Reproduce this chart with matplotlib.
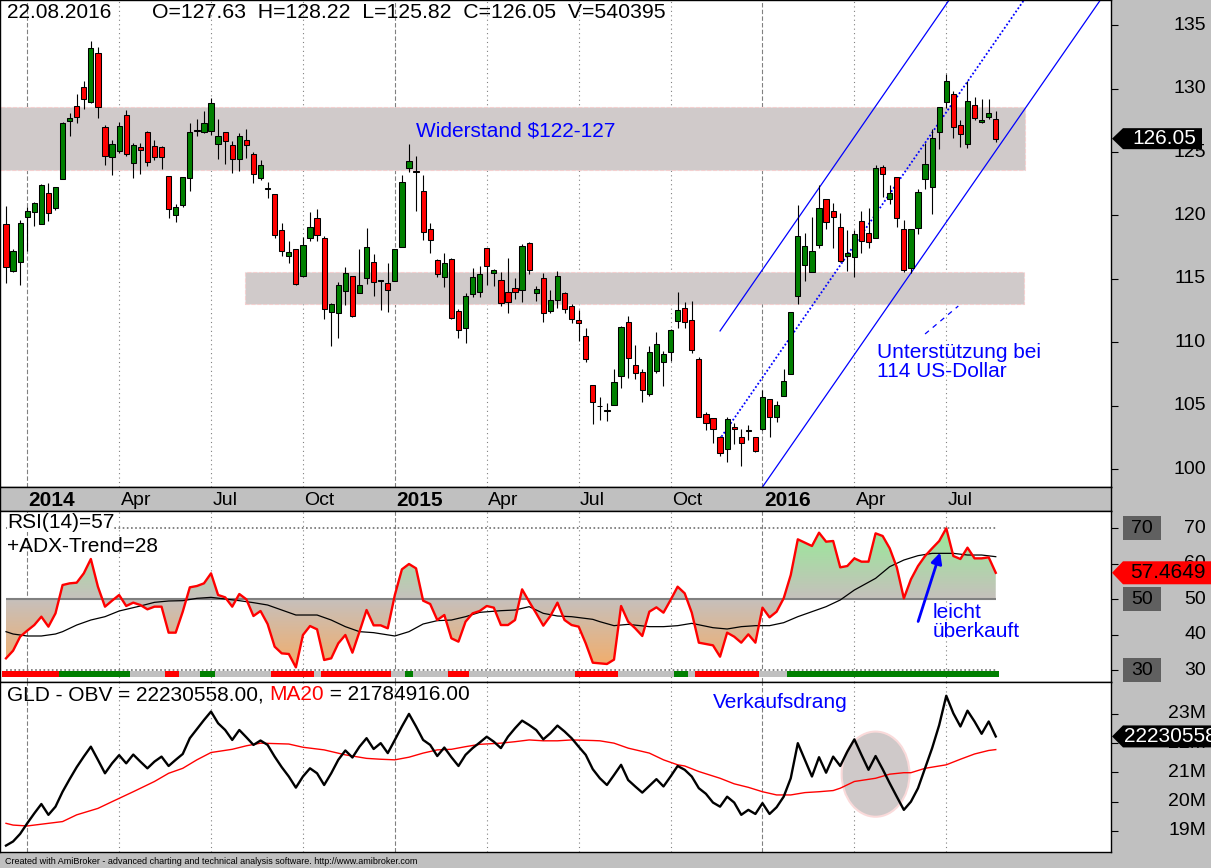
import matplotlib
matplotlib.use("Agg")
import matplotlib.pyplot as plt
import numpy as np
import pandas as pd
from matplotlib.colors import LinearSegmentedColormap
from matplotlib.patches import Polygon, Rectangle, Ellipse, PathPatch
from matplotlib.path import Path
from matplotlib.transforms import blended_transform_factory as blend

plt.rcParams['font.family'] = ['Liberation Sans', 'DejaVu Sans']

# ---- data: GLD weekly bars ----
dates = pd.date_range('2013-12-16', periods=141, freq='W-MON')

opens = [119.30, 115.66, 116.36, 119.86, 120.30, 119.30, 121.75, 120.56, 122.85, 127.47,
         128.60, 130.09, 128.96, 132.77, 126.94, 124.58, 125.10, 127.89, 124.11, 125.37,
         126.55, 125.45, 125.37, 123.08, 120.01, 120.85, 122.93, 126.68, 126.60, 126.68,
         125.60, 126.60, 125.52, 124.42, 125.92, 124.84, 122.98, 122.08, 121.66, 118.86,
         116.78, 117.33, 115.21, 118.20, 119.77, 118.20, 112.43, 112.29, 114.03, 115.21,
         113.87, 115.05, 116.31, 114.87, 114.66, 114.81, 117.49, 123.71, 123.47, 121.90,
         118.93, 116.49, 115.13, 116.57, 112.48, 111.11, 113.79, 113.95, 117.41, 115.44,
         114.92, 113.95, 114.26, 114.11, 117.81, 113.87, 115.05, 112.45, 113.32, 113.87,
         112.85, 111.74, 110.48, 106.63, 104.98, 104.64, 105.05, 107.39, 111.59, 108.20,
         107.65, 105.92, 107.78, 108.44, 109.22, 111.72, 112.69, 111.74, 108.67, 104.34,
         104.03, 102.53, 101.59, 103.37, 102.58, 103.04, 102.53, 103.17, 105.53, 104.10,
         105.81, 107.52, 113.68, 116.10, 115.52, 117.65, 121.27, 120.32, 119.06, 116.78,
         116.70, 119.54, 118.59, 118.20, 123.84, 121.27, 123.00, 118.91, 115.84, 118.99,
         122.84, 122.27, 126.54, 128.91, 129.54, 127.10, 125.60, 128.67, 127.36, 127.75,
         127.63]
highs = [120.75, 117.36, 119.65, 120.70, 121.09, 122.51, 122.56, 122.22, 127.34, 128.04,
         129.54, 130.59, 133.74, 133.27, 127.13, 125.94, 127.39, 128.31, 125.68, 125.71,
         126.65, 125.94, 125.47, 123.08, 120.91, 123.01, 127.26, 127.57, 128.23, 129.23,
         127.57, 126.60, 125.87, 126.47, 126.78, 125.02, 124.37, 122.66, 121.66, 119.41,
         117.99, 117.33, 118.28, 120.25, 120.51, 118.38, 113.11, 114.74, 115.92, 115.21,
         117.36, 118.99, 116.94, 114.92, 116.26, 117.36, 123.19, 125.63, 124.68, 123.19,
         119.41, 116.55, 117.02, 116.65, 112.61, 113.87, 115.89, 116.02, 117.41, 115.76,
         115.58, 116.63, 115.05, 117.73, 117.94, 114.45, 115.45, 114.13, 115.63, 114.00,
         113.00, 112.56, 111.14, 106.63, 105.73, 105.21, 107.89, 111.30, 112.06, 109.80,
         107.89, 109.75, 110.83, 109.33, 111.04, 113.95, 113.21, 113.27, 108.83, 104.50,
         104.03, 102.64, 104.16, 103.69, 103.19, 103.50, 102.53, 106.26, 105.53, 105.42,
         107.88, 112.37, 120.82, 118.59, 119.85, 122.37, 121.27, 120.95, 120.17, 118.85,
         118.85, 120.38, 120.61, 123.95, 123.95, 122.37, 123.00, 119.62, 118.91, 122.06,
         125.68, 126.78, 128.51, 131.14, 129.80, 127.49, 130.59, 129.35, 129.17, 129.17,
         128.22]
lows = [114.66, 115.58, 114.53, 117.23, 119.20, 119.30, 119.59, 120.43, 122.85, 126.29,
        127.31, 128.36, 128.88, 127.70, 123.98, 123.19, 124.90, 124.71, 122.98, 123.24,
        123.92, 124.40, 123.69, 119.78, 119.51, 120.70, 121.96, 126.29, 126.47, 126.34,
        124.45, 124.03, 123.37, 123.53, 124.55, 122.58, 122.79, 121.40, 118.20, 116.81,
        116.28, 114.53, 115.16, 118.02, 118.02, 111.82, 109.75, 110.38, 112.95, 112.03,
        113.87, 114.58, 113.69, 112.53, 112.43, 114.81, 117.49, 123.45, 120.38, 118.07,
        117.07, 115.13, 114.39, 111.82, 110.33, 109.93, 113.61, 113.61, 114.53, 114.47,
        112.90, 112.35, 113.42, 113.19, 115.42, 113.27, 111.64, 112.30, 112.74, 112.30,
        111.51, 110.14, 108.49, 103.56, 103.90, 103.84, 105.05, 106.44, 107.18, 107.15,
        105.34, 105.79, 107.57, 106.60, 108.57, 111.11, 111.11, 109.20, 104.11, 103.11,
        102.11, 101.09, 100.62, 101.98, 100.30, 102.32, 101.40, 103.11, 102.58, 103.76,
        105.81, 107.52, 113.00, 114.86, 115.52, 117.46, 118.93, 117.46, 116.31, 115.65,
        115.13, 117.07, 117.41, 118.20, 121.43, 120.90, 119.06, 115.52, 115.44, 118.51,
        122.11, 120.14, 125.21, 128.43, 126.12, 125.42, 125.28, 127.52, 127.31, 127.57,
        125.82]
closes = [115.97, 117.18, 119.38, 120.35, 120.96, 122.38, 120.17, 122.22, 127.26, 127.65,
          127.73, 129.15, 133.16, 128.52, 124.66, 125.60, 127.02, 124.82, 125.52, 125.13,
          124.19, 124.58, 124.58, 120.49, 120.64, 123.01, 126.55, 126.74, 127.26, 128.83,
          126.23, 125.84, 124.45, 126.23, 125.52, 123.27, 123.97, 122.14, 118.44, 117.18,
          117.10, 114.63, 117.65, 119.07, 118.44, 112.66, 113.03, 114.50, 115.44, 112.11,
          114.53, 117.49, 114.79, 114.91, 114.11, 117.36, 122.61, 124.26, 123.43, 118.67,
          118.04, 115.37, 116.23, 111.90, 110.98, 113.66, 115.16, 115.39, 116.02, 115.68,
          113.08, 113.16, 114.00, 117.60, 115.68, 114.19, 112.30, 113.32, 115.21, 112.61,
          111.82, 111.51, 108.67, 105.34, 105.02, 104.68, 106.86, 111.19, 108.78, 107.57,
          106.23, 109.22, 109.85, 109.07, 110.96, 112.53, 111.59, 109.38, 104.11, 103.63,
          103.16, 101.27, 104.00, 103.16, 102.06, 103.08, 101.48, 105.73, 104.11, 105.07,
          106.99, 112.37, 118.41, 117.62, 117.17, 120.56, 119.46, 119.85, 116.39, 117.02,
          118.51, 117.96, 117.94, 123.71, 123.24, 121.74, 119.77, 115.70, 118.91, 121.82,
          124.02, 126.07, 128.51, 130.56, 126.94, 126.39, 129.04, 127.65, 127.49, 128.07,
          126.05]
volume_last = 540395

rsi = [33.37, 35.52, 39.47, 41.16, 42.75, 45.10, 42.29, 46.04, 54.02, 54.49,
       54.68, 57.31, 61.35, 53.55, 47.92, 49.61, 51.21, 48.11, 49.05, 48.39,
       47.17, 47.92, 47.92, 40.60, 40.60, 46.51, 53.37, 53.74, 54.49, 57.31,
       51.21, 50.55, 47.92, 51.49, 49.98, 45.29, 46.70, 43.04, 36.65, 34.77,
       34.59, 30.83, 39.94, 42.47, 41.53, 32.90, 33.37, 37.59, 39.94, 34.96,
       40.88, 46.98, 42.66, 42.66, 41.82, 51.21, 58.44, 59.94, 58.72, 49.61,
       48.67, 44.16, 45.57, 39.00, 38.06, 43.69, 46.04, 46.70, 48.11, 47.64,
       42.75, 42.75, 44.16, 52.80, 49.33, 46.04, 42.57, 45.29, 49.05, 44.16,
       42.75, 42.29, 37.59, 32.14, 31.96, 31.77, 33.00, 48.11, 43.69, 41.82,
       39.66, 46.51, 47.73, 46.23, 49.80, 53.55, 51.68, 46.23, 37.78, 37.40,
       37.03, 33.83, 40.60, 39.47, 37.78, 40.13, 37.78, 47.64, 44.91, 46.51,
       50.27, 56.84, 66.89, 65.95, 65.01, 68.76, 66.23, 66.42, 59.00, 59.37,
       61.53, 60.60, 60.60, 68.58, 67.83, 64.35, 59.00, 50.27, 55.62, 59.37,
       62.19, 64.35, 66.42, 70.00, 62.19, 61.35, 64.54, 61.53, 61.53, 61.82,
       57.4649]
rsi_ma_x = [0, 1, 3, 5, 7, 8, 10, 12, 14, 16, 19, 21, 23, 25, 27, 29, 31, 33, 35, 37,
            39, 41, 44, 46, 48, 50, 52, 55, 57, 59, 61, 63, 65, 67, 70, 72, 74, 76, 78,
            80, 83, 84, 86, 88, 91, 93, 95, 97, 100, 102, 104, 106, 108, 110, 112, 114,
            116, 118, 120, 123, 125, 127, 129, 131, 134, 136, 138, 140]
rsi_ma_y = [40.88, 40.22, 39.66, 39.66, 40.22, 40.88, 42.75, 44.16, 45.10, 46.70,
            48.11, 49.14, 49.52, 49.61, 50.27, 50.55, 50.08, 49.61, 49.05, 48.39,
            46.98, 45.57, 45.57, 44.16, 42.29, 40.88, 40.60, 39.66, 40.88, 43.04,
            43.98, 44.16, 45.10, 46.32, 46.79, 46.98, 47.92, 46.04, 45.29, 45.10,
            44.35, 43.69, 42.57, 42.94, 42.29, 42.29, 42.57, 43.22, 42.00, 41.63,
            42.29, 42.57, 42.57, 43.41, 45.10, 46.51, 47.92, 49.80, 52.61, 55.90,
            59.19, 61.06, 62.29, 62.94, 62.94, 62.47, 62.47, 62.00]
adx_last = 28
trend_codes = ['r', 'g', 'n', 'r', 'n', 'g', 'n', 'r', 'n', 'r', 'n', 'g', 'n', 'r', 'n',
               'r', 'n', 'g', 'n', 'r', 'n', 'g']
trend_runs = [8, 10, 5, 2, 3, 2, 8, 6, 1, 10, 2, 1, 5, 3, 15, 6, 8, 2, 1, 9, 4, 30]

obv_m = [18.50, 18.64, 18.90, 19.26, 19.60, 19.92, 19.55, 19.83, 20.34, 20.77,
         21.18, 21.54, 21.88, 21.43, 20.97, 21.31, 21.59, 21.31, 21.61, 21.37,
         21.14, 21.37, 21.54, 21.22, 21.43, 21.63, 22.17, 22.48, 22.79, 23.08,
         22.68, 22.45, 22.11, 22.45, 22.20, 21.94, 22.09, 21.94, 21.54, 21.18,
         20.86, 20.48, 20.86, 21.14, 20.97, 20.57, 20.97, 21.43, 21.75, 21.51,
         21.88, 22.17, 21.80, 22.00, 21.66, 22.11, 22.57, 23.00, 22.57, 22.11,
         21.94, 21.56, 21.85, 21.52, 21.22, 21.60, 21.83, 22.02, 22.22, 22.05,
         21.83, 22.22, 22.51, 22.77, 22.62, 22.45, 22.13, 22.34, 22.60, 22.40,
         22.17, 21.88, 21.60, 21.11, 20.80, 20.57, 20.91, 21.26, 20.74, 20.52,
         20.31, 20.54, 20.77, 20.52, 20.86, 21.22, 21.09, 20.86, 20.46, 20.27,
         19.97, 19.83, 20.17, 19.97, 19.55, 19.72, 19.58, 19.95, 19.58, 19.81,
         20.17, 20.80, 22.00, 21.43, 20.86, 21.52, 20.99, 21.54, 21.22, 21.71,
         22.13, 21.60, 21.09, 21.56, 21.11, 20.63, 20.17, 19.72, 20.00, 20.46,
         21.14, 21.83, 22.62, 23.62, 23.02, 22.57, 23.11, 22.74, 22.32, 22.74,
         22.23]
obv_ma_x = [0, 1, 3, 6, 8, 10, 13, 15, 18, 21, 23, 25, 27, 29, 32, 34, 36, 40, 42, 45,
            48, 51, 53, 55, 57, 59, 61, 63, 65, 67, 70, 72, 74, 76, 78, 80, 83, 84, 86,
            88, 91, 93, 95, 96, 98, 101, 103, 105, 107, 109, 111, 113, 115, 117, 118,
            120, 123, 125, 127, 128, 130, 133, 135, 137, 139, 140]
obv_ma_y = [19.26, 19.20, 19.17, 19.26, 19.32, 19.55, 19.77, 20.00, 20.34, 20.69,
            20.97, 21.14, 21.43, 21.68, 21.79, 21.91, 22.00, 21.97, 21.86, 21.77,
            21.60, 21.48, 21.45, 21.43, 21.52, 21.66, 21.77, 21.79, 21.88, 21.96,
            22.00, 22.05, 22.11, 22.08, 22.08, 22.11, 22.09, 22.08, 22.00, 21.83,
            21.66, 21.43, 21.26, 21.22, 21.03, 20.80, 20.61, 20.49, 20.34, 20.23,
            20.23, 20.31, 20.34, 20.38, 20.46, 20.69, 20.80, 20.94, 20.99, 20.99,
            21.14, 21.26, 21.45, 21.63, 21.75, 21.78]
obv_last = 22230558.00
ma20_last = 21784916.00

# chart annotations (bar index, price)
zone_res = [-0.85, 144.1, 123.58, 128.54]
zone_sup = [33.85, 144.0, 113.03, 115.55]
chan_upper = ([101.0, 133.4], [110.91, 136.97])
chan_mid = ([101.2, 144.0], [102.58, 136.97])
chan_lower = ([107.0, 154.8], [98.62, 136.97])
small_dash = ([130.0, 134.7], [110.67, 112.87])

# ---- layout ----
W, H = 1211, 868
BG = '#C0C0C0'
fig = plt.figure(figsize=(W / 100, H / 100), dpi=100, facecolor=BG)


def px_rect(x0, y0, x1, y1):
    return [x0 / W, 1 - y1 / H, (x1 - x0) / W, (y1 - y0) / H]


ax = fig.add_axes(px_rect(0, 0, 1111, 487))
ax_date = fig.add_axes(px_rect(0, 487, 1111, 511))
ax_rsi = fig.add_axes(px_rect(0, 511, 1111, 682))
ax_obv = fig.add_axes(px_rect(0, 682, 1111, 852))

idx = np.arange(len(dates))
XL = (-0.85, 156.3)
o, h, l, c = map(np.array, (opens, highs, lows, closes))

# quarter starts from dates
per = dates.to_period('Q')
starts = [i for i in range(1, len(dates)) if per[i] != per[i - 1]]

for a in (ax, ax_date, ax_rsi, ax_obv):
    a.set_xlim(*XL)
    for s in a.spines.values():
        s.set_color('black')
        s.set_linewidth(1.0)
    a.tick_params(axis='x', bottom=False, labelbottom=False)

for a in (ax, ax_rsi, ax_obv):
    for s in starts:
        if dates[s].month == 1:
            a.axvline(s, color='#808080', lw=0.8, ls=(0, (4, 2)), zorder=0.5)
        else:
            a.axvline(s, color='#808080', lw=0.8, ls=(0, (1, 3)), zorder=0.5)

# ---- price panel ----
ax.set_ylim(98.62, 136.97)
for x0, x1, y0, y1 in (zone_res, zone_sup):
    ax.add_patch(Rectangle((x0, y0), x1 - x0, y1 - y0, fc='#D0CACA', ec='#F4CFCF',
                           ls='--', lw=0.8, zorder=1))

ax.plot(*chan_upper, color='#0000FF', lw=0.9, zorder=2)
ax.plot(*chan_mid, color='#0000FF', lw=1.3, ls=(0, (1, 1.2)), zorder=2)
ax.plot(*chan_lower, color='#0000FF', lw=0.9, zorder=2)
ax.plot(*small_dash, color='#0000FF', lw=0.9, ls=(0, (4, 4)), zorder=2)

cols = np.where(c >= o, '#008000', '#FF0000')
ax.vlines(idx, l, h, color='black', lw=0.8, zorder=3)
ax.bar(idx, np.abs(c - o), bottom=np.minimum(o, c), width=0.74, color=cols,
       edgecolor='black', linewidth=0.75, zorder=4)

ax.text(7 / 1111, 1 - 13 / 487, dates[-1].strftime('%d.%m.%Y'), transform=ax.transAxes,
        va='center', fontsize=15)
ax.text(152 / 1111, 1 - 13 / 487,
        f'O={opens[-1]:.2f}  H={highs[-1]:.2f}  L={lows[-1]:.2f}  C={closes[-1]:.2f}  V={volume_last}',
        transform=ax.transAxes, va='center', fontsize=15.3)
ax.text(58.0, 126.65, 'Widerstand $122-127', color='#0000FF', fontsize=15, va='center')
ax.text(123.2, 108.46, 'Unterstützung bei\n114 US-Dollar', color='#0000FF', fontsize=15,
        va='center', linespacing=1.05)

price_ticks = [100, 105, 110, 115, 120, 125, 130, 135]
ax.set_yticks(price_ticks)
ax.yaxis.tick_right()
ax.tick_params(axis='y', length=5, width=0.8, labelright=False, direction='out')
tr = blend(ax.transAxes, ax.transData)
for v in price_ticks:
    ax.text(1 + 95 / 1111, v, f'{v}', transform=tr, ha='right', va='center', fontsize=14,
            clip_on=False)

# ---- date strip ----
ax_date.set_facecolor(BG)
ax_date.set_ylim(0, 1)
ax_date.set_yticks([])
trd = blend(ax_date.transData, ax_date.transAxes)
for s in starts:
    d = dates[s]
    if d.month == 1:
        ax_date.text(s + 0.2, 0.45, str(d.year), transform=trd, va='center', fontsize=15,
                     fontweight='bold')
    else:
        ax_date.text(s + 0.2, 0.45, d.strftime('%b'), transform=trd, va='center', fontsize=14)

# ---- RSI panel ----
RL = (26.7, 74.87)
ax_rsi.set_ylim(*RL)
rsi_a = np.array(rsi)
cmap = LinearSegmentedColormap.from_list('rsi', [(0.0, '#F5AC66'), (0.5, '#C6C0BC'),
                                                 (1.0, '#98EA98')])
fb = ax_rsi.fill_between(idx, rsi_a, 50, facecolor='none', edgecolor='none')
clip = PathPatch(Path.make_compound_path(*fb.get_paths()), transform=ax_rsi.transData,
                 fc='none', ec='none')
ax_rsi.add_patch(clip)
grad = np.linspace(RL[0], RL[1], 256).reshape(-1, 1)
im = ax_rsi.imshow(grad, cmap=cmap, vmin=30, vmax=70, origin='lower', aspect='auto',
                   extent=[XL[0], XL[1], RL[0], RL[1]], zorder=1)
im.set_clip_path(clip)
ax_rsi.set_xlim(*XL)
ax_rsi.set_ylim(*RL)

ax_rsi.hlines(50, idx[0], idx[-1], color='#808080', lw=1.5, zorder=2)
ax_rsi.hlines([70, 30], idx[0], idx[-1], color='#707070', lw=1.2, ls=(0, (1, 1.5)), zorder=2)
ax_rsi.plot(rsi_ma_x, rsi_ma_y, color='black', lw=0.9, zorder=3)
ax_rsi.plot(idx, rsi_a, color='#FF0000', lw=1.7, zorder=4)

tcolor = {'r': '#FF0000', 'g': '#008000', 'n': '#C0C0C0'}
trend_cols = np.repeat([tcolor[k] for k in trend_codes], trend_runs)
ax_rsi.bar(idx, 1.7, bottom=28.2, width=1.0, color=trend_cols, linewidth=0, zorder=3)

ax_rsi.text(7 / 1111, 1 - 11 / 171, f'RSI(14)={rsi_a[-1]:.0f}', transform=ax_rsi.transAxes,
            va='center', fontsize=15, zorder=6,
            bbox=dict(fc='white', ec='none', pad=0))
ax_rsi.text(7 / 1111, 1 - 36 / 171, f'+ADX-Trend={adx_last}', transform=ax_rsi.transAxes,
            va='center', fontsize=15, zorder=6)
ax_rsi.text(131.0, 43.6, 'leicht\nüberkauft', color='#0000FF', fontsize=15, va='center',
            linespacing=1.05, zorder=6)
ax_rsi.annotate('', xy=(132.25, 63.9), xytext=(128.9, 43.0), zorder=6,
                arrowprops=dict(arrowstyle='-|>', color='#0000FF', lw=2, mutation_scale=16))

rsi_ticks = [30, 40, 50, 60, 70]
ax_rsi.set_yticks(rsi_ticks)
ax_rsi.yaxis.tick_right()
ax_rsi.tick_params(axis='y', length=5, width=0.8, labelright=False, direction='out')
trr = blend(ax_rsi.transAxes, ax_rsi.transData)
for v in rsi_ticks:
    ax_rsi.text(1 + 95 / 1111, v, f'{v}', transform=trr, ha='right', va='center',
                fontsize=14, clip_on=False)
for v in (70, 50, 30):
    ax_rsi.add_patch(Rectangle((1 + 12 / 1111, v - 12 / 3.55), 38 / 1111, 24 / 3.55,
                               transform=trr, fc='#606060', ec='none', clip_on=False))
    ax_rsi.text(1 + 31 / 1111, v, f'{v}', transform=trr, ha='center', va='center',
                fontsize=14, clip_on=False)

# ---- OBV panel ----
OL = (18.28, 24.09)
ax_obv.set_ylim(*OL)
ax_obv.add_patch(Ellipse((123.0, 20.94), 9.6, 2.91, fc='#CFC9C9', ec='#FADADA', lw=1.5,
                         zorder=1))
ax_obv.plot(obv_ma_x, obv_ma_y, color='#FF0000', lw=1.0, zorder=3)
ax_obv.plot(idx, obv_m, color='black', lw=1.7, zorder=4)
ax_obv.text(100.0, 23.38, 'Verkaufsdrang', color='#0000FF', fontsize=15, va='center')

t1 = ax_obv.text(7 / 1111, 1 - 13 / 170, f'GLD - OBV = {obv_last:.2f}, ',
                 transform=ax_obv.transAxes, va='center', fontsize=15)
t2 = ax_obv.annotate('MA20', xy=(1, 0), xycoords=t1, va='bottom', ha='left', fontsize=15,
                     color='#FF0000')
ax_obv.annotate(f' = {ma20_last:.2f}', xy=(1, 0), xycoords=t2, va='bottom', ha='left',
                fontsize=15)

obv_ticks = [19, 20, 21, 22, 23]
ax_obv.set_yticks(obv_ticks)
ax_obv.yaxis.tick_right()
ax_obv.tick_params(axis='y', length=5, width=0.8, labelright=False, direction='out')
tro = blend(ax_obv.transAxes, ax_obv.transData)
for v in obv_ticks:
    ax_obv.text(1 + 95 / 1111, v, f'{v}M', transform=tro, ha='right', va='center',
                fontsize=14, clip_on=False)


# ---- value tags on the right ----
def tag(a, val, label, fc, tc, x_right, h_px, x_text, ha):
    yd = a.transData.transform((0, val))[1]
    yf = fig.transFigure.inverted().transform((0, yd))[1]
    hh = h_px / 2 / H
    pts = [(1112 / W, yf), (1123 / W, yf + hh), (x_right / W, yf + hh),
           (x_right / W, yf - hh), (1123 / W, yf - hh)]
    fig.add_artist(Polygon(pts, closed=True, fc=fc, ec='none', transform=fig.transFigure,
                           zorder=10))
    fig.text(x_text / W, yf, label, color=tc, fontsize=15, ha=ha, va='center', zorder=11)


tag(ax, closes[-1], f'{closes[-1]:.2f}', 'black', 'white', 1202, 21, 1164, 'center')
tag(ax_rsi, rsi[-1], f'{rsi[-1]:.4f}', '#FF0000', 'black', 1215, 23, 1130, 'left')
tag(ax_obv, obv_m[-1], f'{obv_last:.0f}', 'black', 'white', 1215, 22, 1124, 'left')

fig.text(5 / W, 7 / H,
         'Created with AmiBroker - advanced charting and technical analysis software. '
         'http://www.amibroker.com', fontsize=6.5, va='center')

fig.savefig('out.png', dpi=100, facecolor=BG)
